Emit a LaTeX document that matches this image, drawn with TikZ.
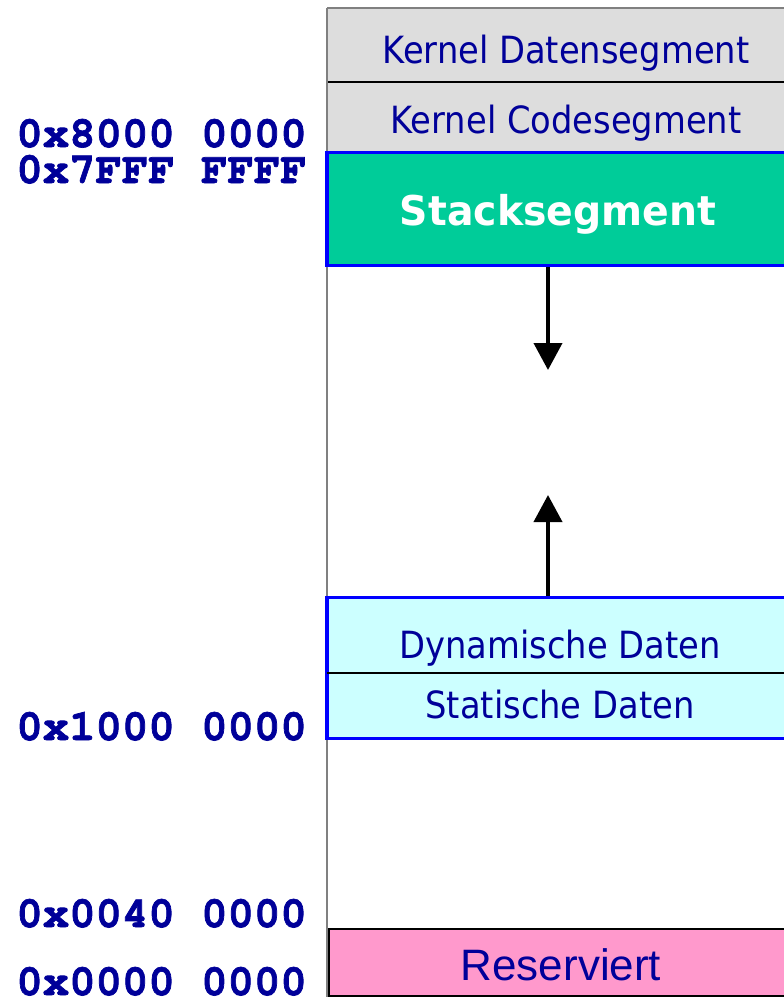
\documentclass[tikz,border=0pt]{standalone}
\usepackage{fontspec}
\usetikzlibrary{arrows.meta}
\newfontfamily\segfont[FakeStretch=0.9]{DejaVu Sans}
\newfontfamily\stackfont[FakeStretch=0.96]{DejaVu Sans}
\newfontfamily\addrfont{texgyrecursor}[Extension=.otf,UprightFont=*-regular,BoldFont=*-bold,BoldFeatures={FakeBold=1.6}]
\newfontfamily\resfont{Liberation Sans}
\definecolor{labelblue}{RGB}{0,0,153}
\definecolor{kernelgray}{RGB}{221,221,221}
\definecolor{stackgreen}{RGB}{0,204,153}
\definecolor{datacyan}{RGB}{204,255,255}
\definecolor{respink}{RGB}{255,153,204}
\definecolor{framegray}{RGB}{128,128,128}
\begin{document}
\begin{tikzpicture}[x=1pt,y=-1pt,
  seg/.style={rectangle,inner sep=0pt,outer sep=0pt,anchor=north west,minimum width=480pt},
  kernelseg/.style={seg,fill=kernelgray},
  userseg/.style={seg,draw=blue,line width=3.5pt},
  segtext/.style={anchor=base,inner sep=0pt,text=labelblue,font=\segfont\fontsize{37.5}{40}\selectfont},
  addr/.style={anchor=base east,inner sep=0pt,text=labelblue,font=\addrfont\bfseries\fontsize{44}{46}\selectfont},
  growth/.style={line width=4pt,-{Triangle[width=28pt,length=27pt]}}
]
\useasboundingbox (0,0) rectangle (784,997);

% left frame of the address space
\coordinate (frametop) at (327,8);
\coordinate (framebot) at (327,997);
\draw[framegray,line width=2pt] (frametop) -- (framebot);
\draw[framegray,line width=2pt] (frametop) -- ++(470,0);

% kernel segments
\node[kernelseg,minimum height=73pt] (kdata) at (328,9) {};
\node[kernelseg,minimum height=71pt] (kcode) at (328,81) {};
\draw[black,line width=2pt] (kdata.south west) -- (kdata.south east);

% user segments
\node[userseg,fill=stackgreen,minimum height=113pt] (stack) at (327,152.5) {};
\node[userseg,fill=datacyan,minimum height=141pt] (data) at (327,597.5) {};
\coordinate (datasplit) at (327,673);
\draw[black,line width=2pt] (datasplit) -- ++(470,0);
\node[seg,fill=respink,draw=black,line width=2pt,minimum height=67pt] (res) at (329,928.5) {};

% growth direction of stack and heap
\coordinate (stacktip) at (548,370);
\coordinate (heaptip) at (548,495);
\draw[growth] (stack.south -| stacktip) ++(0,1.5) -- (stacktip);
\draw[growth] (data.north -| heaptip) ++(0,-1.5) -- (heaptip);

% segment names
\node[segtext] (tkdata) at (566,63) {Kernel Datensegment};
\node[segtext] (tkcode) at (566,133) {Kernel Codesegment};
\node[anchor=base,inner sep=0pt,text=white,font=\stackfont\bfseries\fontsize{41}{44}\selectfont] (tstack) at (558,225) {Stacksegment};
\node[segtext] (tdyn) at (560,658) {Dynamische Daten};
\node[segtext] (tstat) at (560,718) {Statische Daten};
\node[anchor=base,inner sep=0pt,text=labelblue,font=\resfont\fontsize{44}{46}\selectfont] (tres) at (561,980) {Reserviert};

% addresses
\node[addr] (a8) at (307,147) {0x8000 0000};
\node[addr] (a7) at (307,183) {0x7FFF FFFF};
\node[addr] (a1) at (307,740) {0x1000 0000};
\node[addr] (a04) at (307,927) {0x0040 0000};
\node[addr] (a0) at (307,995) {0x0000 0000};
\end{tikzpicture}
\end{document}
